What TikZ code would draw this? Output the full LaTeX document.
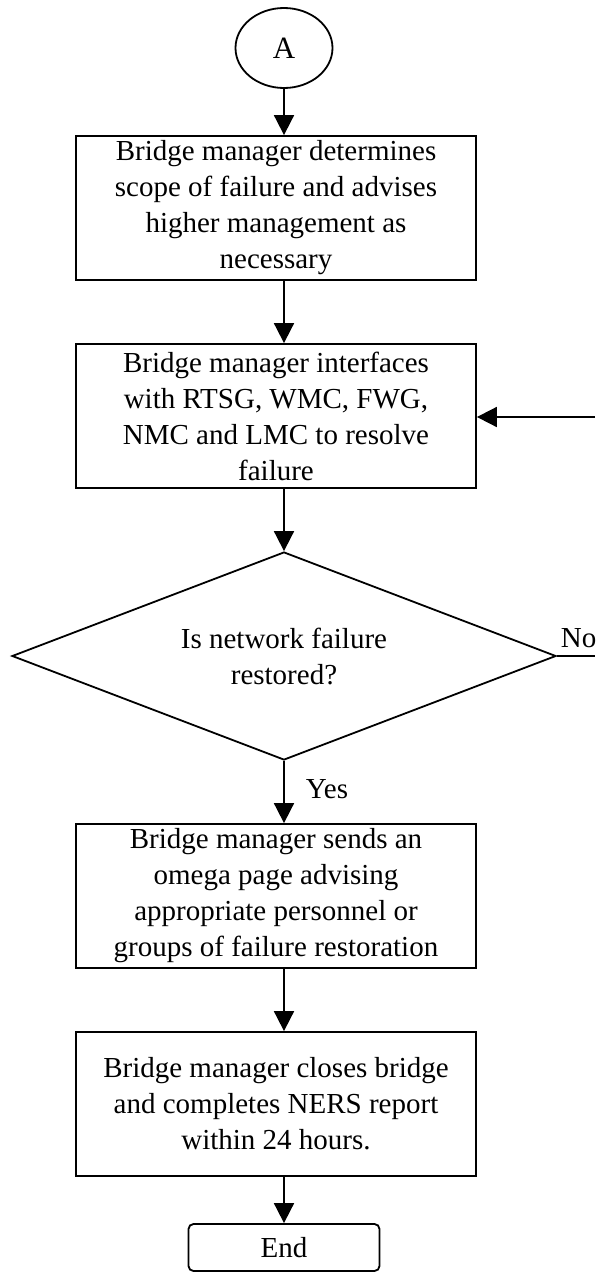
\documentclass[tikz,border=0pt]{standalone}
\usepackage{fontspec}
\setmainfont{Liberation Serif}
\usetikzlibrary{shapes.geometric,arrows.meta}

\begin{document}
\begin{tikzpicture}[
    x=1pt, y=-1pt,
    line width=1.8pt,
    txt/.style={font=\fontsize{29}{36}\selectfont},
    proc/.style={txt, draw, rectangle, minimum width=400pt, minimum height=144pt,
                 inner sep=0pt, align=center},
    connector/.style={draw, ellipse, minimum width=97pt, minimum height=80pt,
                 inner sep=0pt, font=\fontsize{31}{36}\selectfont},
    decision/.style={txt, draw, diamond, aspect=2.6, minimum width=544pt,
                 minimum height=208pt, inner sep=0pt, align=center},
    terminal/.style={txt, draw, rectangle, rounded corners=5pt, minimum width=191pt,
                 minimum height=47pt, inner sep=0pt},
    lbl/.style={txt, inner sep=0pt, anchor=base west},
    flow/.style={-{Triangle[length=20pt,width=20pt]}}
]
\useasboundingbox (0,0) rectangle (595,1272);

% shapes
\node[connector] (start) at (284,48) {A};
\node[proc] (b1) at (276,208) {Bridge manager determines\\scope of failure and advises\\higher management as\\necessary};
\node[proc] (b2) at (276,416) {Bridge manager interfaces\\with RTSG, WMC, FWG,\\NMC and LMC to resolve\\failure};
\node[decision] (dia) at (284,656) {Is network failure\\restored?};
\node[proc] (b3) at (276,896) {Bridge manager sends an\\omega page advising\\appropriate personnel or\\groups of failure restoration};
\node[proc] (b4) at (276,1104) {Bridge manager closes bridge\\and completes NERS report\\within 24 hours.};
\node[terminal] (end) at (284,1247.5) {End};

% labels on the decision branches
\node[lbl] (yes) at (305,798) {Yes};
\node[lbl] (no) at (560,647) {No};

% loose ends of the "No" loop at the page edge
\coordinate (noout) at (595,656);
\coordinate (loopin) at (595,417);

% connectors
\draw[flow] (start.south) -- (b1.north -| start.south);
\draw[flow] (b1.south -| start.south) -- (b2.north -| start.south);
\draw[flow] (b2.south -| dia.north) -- (dia.north);
\draw[flow] (dia.south) -- (b3.north -| dia.south);
\draw[flow] (b3.south -| dia.south) -- (b4.north -| dia.south);
\draw[flow] (b4.south -| end.north) -- (end.north);
\draw (dia.east) -- (noout);
\draw[flow] (loopin) -- (loopin -| b2.east);
\end{tikzpicture}
\end{document}
